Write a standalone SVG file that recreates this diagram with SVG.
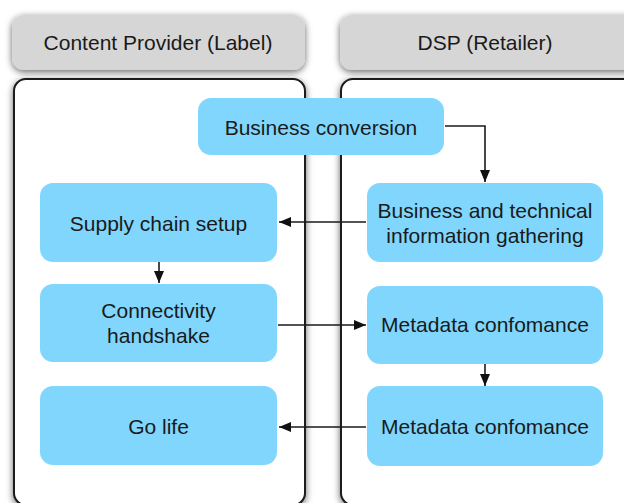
<svg xmlns="http://www.w3.org/2000/svg" width="624" height="503" viewBox="0 0 624 503">
  <defs>
    <filter id="sh" x="-10%" y="-10%" width="120%" height="120%">
      <feDropShadow dx="0" dy="2" stdDeviation="3.5" flood-color="#000" flood-opacity="0.6"/>
    </filter>
    <marker id="ah" viewBox="0 0 12 10" refX="12" refY="5" markerWidth="12" markerHeight="10" markerUnits="userSpaceOnUse" orient="auto">
      <path d="M0,0 L12,5 L0,10 Z" fill="#111"/>
    </marker>
    <style>
      .hdr { fill: #d6d6d6; filter: url(#sh); }
      .lane { fill: #ffffff; stroke: #1a1a1a; stroke-width: 2; filter: url(#sh); }
      .node { fill: #80d6fc; }
      text { font-family: "Liberation Sans", Arial, sans-serif; font-size: 21px; fill: #1a1a1a; text-anchor: middle; }
      .conn path { fill: none; stroke: #1a1a1a; stroke-width: 1.6; marker-end: url(#ah); }
    </style>
  </defs>

  <g id="lane-left">
    <rect class="hdr" x="12" y="15" width="293" height="55" rx="12"/>
    <text x="158" y="50">Content Provider (Label)</text>
    <rect class="lane" x="14" y="79" width="291" height="426" rx="12"/>
  </g>
  <g id="lane-right">
    <rect class="hdr" x="340" y="15" width="300" height="55" rx="12"/>
    <text x="485" y="50">DSP (Retailer)</text>
    <rect class="lane" x="341" y="79" width="300" height="426" rx="12"/>
  </g>

  <g class="conn" id="connectors">
    <path d="M445,126 H485 V182"/>
    <path d="M366,222 H279"/>
    <path d="M159,262 V283"/>
    <path d="M278,325 H366"/>
    <path d="M485,364 V386"/>
    <path d="M366,427 H279"/>
  </g>

  <g id="n-business-conversion">
    <rect class="node" x="198" y="98" width="246" height="57" rx="13"/>
    <text x="321" y="134.5">Business conversion</text>
  </g>
  <g id="n-supply-chain">
    <rect class="node" x="40" y="183" width="237" height="79" rx="13"/>
    <text x="158.5" y="230.5">Supply chain setup</text>
  </g>
  <g id="n-business-technical">
    <rect class="node" x="367" y="183" width="236" height="79" rx="13"/>
    <text x="485" y="218">Business and technical</text>
    <text x="485" y="242.5">information gathering</text>
  </g>
  <g id="n-connectivity">
    <rect class="node" x="40" y="284" width="237" height="78" rx="13"/>
    <text x="158.5" y="318">Connectivity</text>
    <text x="158.5" y="342.5">handshake</text>
  </g>
  <g id="n-metadata-1">
    <rect class="node" x="367" y="286" width="236" height="78" rx="13"/>
    <text x="485" y="332">Metadata confomance</text>
  </g>
  <g id="n-go-life">
    <rect class="node" x="40" y="386" width="237" height="79" rx="13"/>
    <text x="158.5" y="434">Go life</text>
  </g>
  <g id="n-metadata-2">
    <rect class="node" x="367" y="386" width="236" height="80" rx="13"/>
    <text x="485" y="434">Metadata confomance</text>
  </g>
</svg>
